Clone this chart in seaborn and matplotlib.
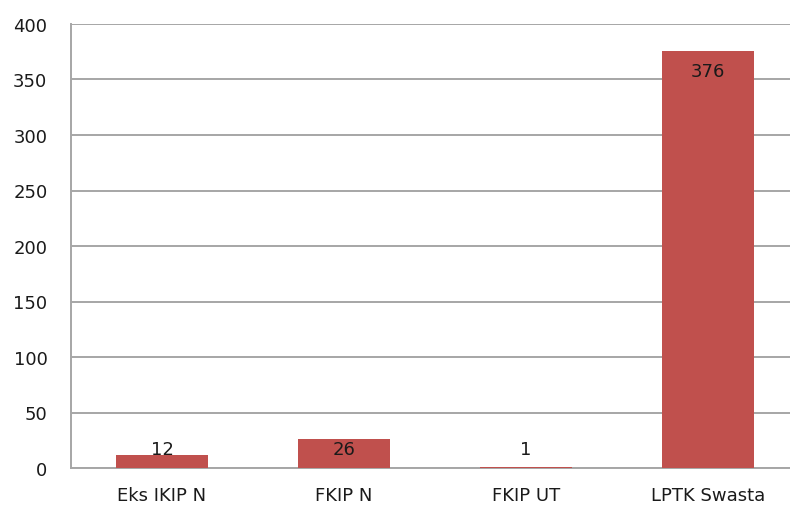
import pandas as pd
import matplotlib.pyplot as plt
import seaborn as sns

categories = ['Eks IKIP N', 'FKIP N', 'FKIP UT', 'LPTK Swasta']
values = [12, 26, 1, 376]

sns.set_style("white")
plt.rcParams['font.family'] = ['DejaVu Sans']

df = pd.DataFrame({'kategori': categories, 'jumlah': values})

fig = plt.figure(figsize=(7.9, 5.1), dpi=100)
ax = fig.add_axes([71 / 790, 1 - 469 / 510, 1 - 71 / 790, 444 / 510])

sns.barplot(data=df, x='kategori', y='jumlah', color='#C0504D', saturation=1,
            width=0.505, linewidth=0, ax=ax, zorder=3)

ax.set_ylim(0, 400)
ax.set_xlim(-0.5, 3.45)
ax.set_yticks(range(0, 401, 50))
ax.yaxis.grid(True, color='#A6A6A6', linewidth=1.4, zorder=0)
ax.set_axisbelow(True)
for s in ['top', 'right']:
    ax.spines[s].set_visible(False)
for s in ['left', 'bottom']:
    ax.spines[s].set_color('#A6A6A6')
    ax.spines[s].set_linewidth(1.4)
ax.tick_params(axis='both', length=0, labelsize=13, colors='#1a1a1a')
ax.tick_params(axis='y', pad=17)
ax.tick_params(axis='x', pad=13)
ax.set_xlabel('')
ax.set_ylabel('')

# data labels inside end of the bar
for i, v in enumerate(values):
    ax.text(i, max(v - 18, 17), str(v), ha='center', va='center',
            fontsize=13, color='#1a1a1a', zorder=4)

plt.savefig('out.png', dpi=100)
